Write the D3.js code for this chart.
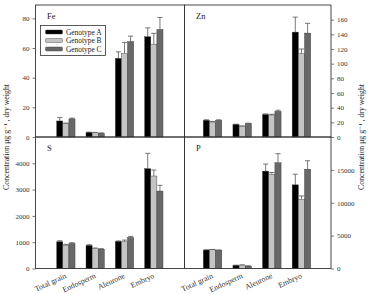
<!DOCTYPE html>
<html>
<head>
<meta charset="utf-8">
<script src="https://cdn.jsdelivr.net/npm/d3@7"></script>
<style>
  body { margin: 0; background: #fff; }
  svg { display: block; font-family: "Liberation Serif", "DejaVu Serif", serif; }
</style>
</head>
<body>
<div id="chart"></div>
<script>
var categories = ["Total grain", "Endosperm", "Aleurone", "Embryo"];
var genotypes = ["Genotype A", "Genotype B", "Genotype C"];

// means and upper error (per category, per genotype)
var feMean = [[10.8, 9.0, 12.2], [3.0, 2.8, 2.5], [53, 56.3, 64.4], [67.6, 62.6, 72.5]];
var feErr  = [[2.3, 0.4, 0.5], [0.3, 0.3, 0.3], [4.4, 7.5, 3.6], [6.0, 7.3, 8.1]];
var znMean = [[22.7, 20.4, 22.7], [16.9, 14.6, 18.2], [30.5, 30, 35], [143, 113.6, 141.7]];
var znErr  = [[0.8, 0.8, 0.8], [0.6, 0.6, 0.6], [1, 1, 1.5], [20.5, 6.4, 13.3]];
var sMean  = [[1015, 888, 951], [875, 760, 735], [1028, 1015, 1181], [3795, 3516, 2945]];
var sErr   = [[40, 30, 30], [30, 20, 20], [20, 65, 40], [585, 229, 217]];
var pMean  = [[2800, 2850, 2780], [460, 510, 360], [14810, 14350, 16080], [12720, 10530, 15110]];
var pErr   = [[50, 50, 50], [50, 50, 50], [1070, 250, 1380], [1630, 510, 1280]];

var feTicks = [0, 20, 40, 60, 80];
var znTicks = [0, 20, 40, 60, 80, 100, 120, 140, 160];
var sTicks = [0, 1000, 2000, 3000, 4000];
var pTicks = [0, 5000, 10000, 15000];

var colors = ["#000000", "#c4c4c4", "#686868"];
var yLabel = "Concentration \u03bcg g\u207b\u00b9 , dry weight";

var width = 370, height = 294;
var leftX = 35.5, midX = 184.5, rightX = 331, topY = 5, midY = 137, bottomY = 268.5;

var svg = d3.select("#chart").append("svg")
    .attr("width", width)
    .attr("height", height);

var panels = [
  { name: "Fe", mean: feMean, err: feErr, max: 89, ticks: feTicks, col: 0, row: 0 },
  { name: "Zn", mean: znMean, err: znErr, max: 180, ticks: znTicks, col: 1, row: 0 },
  { name: "S", mean: sMean, err: sErr, max: 5000, ticks: sTicks, col: 0, row: 1 },
  { name: "P", mean: pMean, err: pErr, max: 20000, ticks: pTicks, col: 1, row: 1 }
];

var colX = [[leftX, midX], [midX, rightX]];
var rowY = [[topY, midY], [midY, bottomY]];
var barRange = [[56.7, 163], [203.3, 310.7]];

panels.forEach(function (p) {
  var x0 = colX[p.col][0], x1 = colX[p.col][1];
  var y0 = rowY[p.row][0], y1 = rowY[p.row][1];

  var x = d3.scaleBand().domain(categories).range(barRange[p.col])
      .paddingInner(0.375).paddingOuter(0);
  var xs = d3.scaleBand().domain(genotypes).range([0, x.bandwidth()]);
  var y = d3.scaleLinear().domain([0, p.max]).range([y1, y0]);

  var g = svg.append("g");

  // bars
  categories.forEach(function (c, i) {
    var grp = g.append("g").attr("transform", "translate(" + x(c) + ",0)");
    genotypes.forEach(function (gt, j) {
      var v = p.mean[i][j], e = p.err[i][j];
      var bx = xs(gt), bw = xs.bandwidth();
      // error bar (upper only)
      grp.append("line")
          .attr("x1", bx + bw / 2).attr("x2", bx + bw / 2)
          .attr("y1", y(v)).attr("y2", y(v + e))
          .attr("stroke", "#555").attr("stroke-width", 0.8);
      grp.append("line")
          .attr("x1", bx + 0.5).attr("x2", bx + bw - 0.5)
          .attr("y1", y(v + e)).attr("y2", y(v + e))
          .attr("stroke", "#555").attr("stroke-width", 0.8);
      grp.append("rect")
          .attr("x", bx).attr("y", y(v))
          .attr("width", bw).attr("height", y(0) - y(v))
          .attr("fill", colors[j])
          .attr("stroke", "#333").attr("stroke-width", 0.4);
    });
  });

  // frame
  g.append("rect")
      .attr("x", x0).attr("y", y0)
      .attr("width", x1 - x0).attr("height", y1 - y0)
      .attr("fill", "none").attr("stroke", "#333").attr("stroke-width", 0.9);

  // axis
  var axis = (p.col === 0 ? d3.axisLeft(y) : d3.axisRight(y))
      .tickValues(p.ticks).tickSize(3).tickPadding(3)
      .tickFormat(d3.format("d"));
  var ag = g.append("g")
      .attr("transform", "translate(" + (p.col === 0 ? x0 : x1) + ",0)")
      .call(axis);
  ag.select(".domain").remove();
  ag.selectAll("line").attr("stroke", "#555").attr("stroke-width", 0.8);
  ag.selectAll("text")
      .attr("font-size", 7)
      .attr("font-family", "Liberation Serif, serif")
      .attr("fill", "#333");

  // panel label
  g.append("text")
      .attr("x", x0 + 11.5).attr("y", y0 + 13.5)
      .attr("font-size", 8.5).attr("fill", "#222")
      .text(p.name);

  // category labels under bottom row
  if (p.row === 1) {
    categories.forEach(function (c) {
      var cx = x(c) + x.bandwidth() / 2 + 1;
      g.append("text")
          .attr("transform", "translate(" + cx + "," + (y1 + 9) + ") rotate(-25)")
          .attr("text-anchor", "end")
          .attr("font-size", 7.8).attr("fill", "#333")
          .text(c);
    });
  }
});

// legend (inside Fe panel)
var lg = svg.append("g");
lg.append("rect")
    .attr("x", 40.5).attr("y", 25.5).attr("width", 65).attr("height", 30)
    .attr("fill", "#fff").attr("stroke", "#333").attr("stroke-width", 0.8);
genotypes.forEach(function (gt, j) {
  var cy = 32 + j * 8.5;
  lg.append("rect")
      .attr("x", 45.5).attr("y", cy - 2).attr("width", 17).attr("height", 4)
      .attr("rx", 1)
      .attr("fill", colors[j]).attr("stroke", "#333").attr("stroke-width", 0.4);
  lg.append("text")
      .attr("x", 66).attr("y", cy + 2.6)
      .attr("font-size", 7.4).attr("fill", "#222")
      .text(gt);
});

// y labels
svg.append("text")
    .attr("transform", "translate(9," + midY + ") rotate(-90)")
    .attr("text-anchor", "middle")
    .attr("font-size", 7.8).attr("fill", "#222")
    .text(yLabel);
svg.append("text")
    .attr("transform", "translate(364," + midY + ") rotate(-90)")
    .attr("text-anchor", "middle")
    .attr("font-size", 7.8).attr("fill", "#222")
    .text(yLabel);
</script>
</body>
</html>
